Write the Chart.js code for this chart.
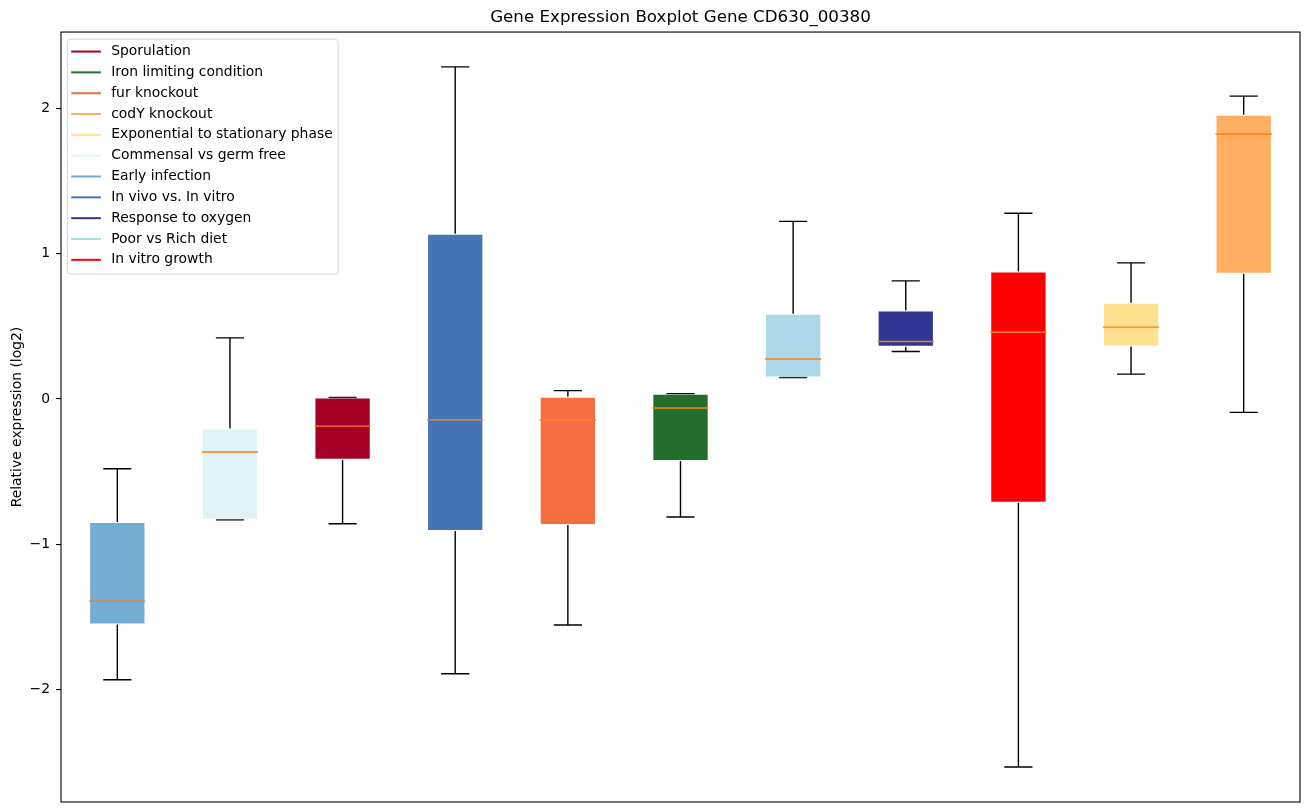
<!DOCTYPE html>
<html>
<head>
<meta charset="utf-8">
<script src="https://cdn.jsdelivr.net/npm/chart.js@4/dist/chart.umd.min.js"></script>
<style>
html,body{margin:0;padding:0;background:#fff;}
#wrap{width:1309px;height:812px;position:relative;}
</style>
</head>
<body>
<div id="wrap"><canvas id="c"></canvas></div>
<script>
// ---- data (x order of the boxes) ----
const categories = ["Early infection","Commensal vs germ free","Sporulation","In vivo vs. In vitro","fur knockout","Iron limiting condition","Poor vs Rich diet","Response to oxygen","In vitro growth","Exponential to stationary phase","codY knockout"];
const whiskerLow  = [-1.933, -0.831, -0.859, -1.891, -1.556, -0.812, 0.148, 0.327, -2.533, 0.171, -0.092];
const q1Values    = [-1.552, -0.831, -0.418, -0.909, -0.868, -0.427, 0.148, 0.359, -0.714, 0.361, 0.862];
const medians     = [-1.391, -0.365, -0.187, -0.143, -0.143, -0.062, 0.275, 0.396, 0.460, 0.495, 1.824];
const q3Values    = [-0.847, -0.203, 0.010, 1.137, 0.016, 0.036, 0.586, 0.609, 0.877, 0.662, 1.957];
const whiskerHigh = [-0.480, 0.421, 0.010, 2.286, 0.058, 0.036, 1.223, 0.813, 1.279, 0.937, 2.085];
const yTicks = [-2, -1, 0, 1, 2];
const legendOrder = ["Sporulation","Iron limiting condition","fur knockout","codY knockout","Exponential to stationary phase","Commensal vs germ free","Early infection","In vivo vs. In vitro","Response to oxygen","Poor vs Rich diet","In vitro growth"];

// ---- styles ----
const colorMap = {
  "Sporulation":"#a50026",
  "Iron limiting condition":"#236e2d",
  "fur knockout":"#f46d43",
  "codY knockout":"#fdae61",
  "Exponential to stationary phase":"#fee090",
  "Commensal vs germ free":"#e0f3f8",
  "Early infection":"#74add1",
  "In vivo vs. In vitro":"#4575b4",
  "Response to oxygen":"#313695",
  "Poor vs Rich diet":"#abd9e9",
  "In vitro growth":"#ff0000"
};
const FONT = "'DejaVu Sans', sans-serif";

const whiskerPlugin = {
  id: 'whiskers',
  beforeDatasetsDraw(chart) {
    const ctx = chart.ctx, xs = chart.scales.x, ys = chart.scales.y;
    const step = xs.getPixelForValue(1) - xs.getPixelForValue(0);
    const hw = step * 0.125;
    ctx.save();
    ctx.strokeStyle = '#000';
    ctx.lineWidth = 1.4;
    categories.forEach((c, i) => {
      const x = xs.getPixelForValue(i);
      const yl = ys.getPixelForValue(whiskerLow[i]);
      const y1 = ys.getPixelForValue(q1Values[i]);
      const y3 = ys.getPixelForValue(q3Values[i]);
      const yh = ys.getPixelForValue(whiskerHigh[i]);
      ctx.beginPath();
      ctx.moveTo(x, y1); ctx.lineTo(x, yl);
      ctx.moveTo(x, y3); ctx.lineTo(x, yh);
      ctx.moveTo(x - hw, yl); ctx.lineTo(x + hw, yl);
      ctx.moveTo(x - hw, yh); ctx.lineTo(x + hw, yh);
      ctx.stroke();
    });
    ctx.restore();
  },
  afterDatasetsDraw(chart) {
    const ctx = chart.ctx, xs = chart.scales.x, ys = chart.scales.y;
    const step = xs.getPixelForValue(1) - xs.getPixelForValue(0);
    const bw = step * 0.25;
    ctx.save();
    ctx.strokeStyle = '#ff7f0e';
    ctx.lineWidth = 1.4;
    categories.forEach((c, i) => {
      const x = xs.getPixelForValue(i);
      const ym = ys.getPixelForValue(medians[i]);
      ctx.beginPath();
      ctx.moveTo(x - bw, ym); ctx.lineTo(x + bw, ym);
      ctx.stroke();
    });
    // frame
    const a = chart.chartArea;
    ctx.strokeStyle = '#000';
    ctx.lineWidth = 1.1;
    ctx.strokeRect(a.left, a.top, a.right - a.left, a.bottom - a.top);
    ctx.restore();
  },
  afterDraw(chart) {
    const ctx = chart.ctx, a = chart.chartArea;
    const bx = a.left + 6.5, by = a.top + 7.3, bwid = 270.7, bh = 234.7, r = 3;
    ctx.save();
    ctx.beginPath();
    ctx.moveTo(bx + r, by);
    ctx.lineTo(bx + bwid - r, by); ctx.quadraticCurveTo(bx + bwid, by, bx + bwid, by + r);
    ctx.lineTo(bx + bwid, by + bh - r); ctx.quadraticCurveTo(bx + bwid, by + bh, bx + bwid - r, by + bh);
    ctx.lineTo(bx + r, by + bh); ctx.quadraticCurveTo(bx, by + bh, bx, by + bh - r);
    ctx.lineTo(bx, by + r); ctx.quadraticCurveTo(bx, by, bx + r, by);
    ctx.closePath();
    ctx.fillStyle = 'rgba(255,255,255,0.8)';
    ctx.fill();
    ctx.strokeStyle = '#d6d6d6';
    ctx.lineWidth = 1;
    ctx.stroke();
    ctx.font = "13.9px " + FONT;
    ctx.textBaseline = 'middle';
    ctx.textAlign = 'left';
    legendOrder.forEach((name, i) => {
      const y = by + 12.2 + i * 20.83;
      ctx.strokeStyle = colorMap[name];
      ctx.lineWidth = 2;
      ctx.beginPath();
      ctx.moveTo(bx + 3.7, y); ctx.lineTo(bx + 33.4, y);
      ctx.stroke();
      ctx.fillStyle = '#000';
      ctx.fillText(name, bx + 43.7, y);
    });
    ctx.restore();
  }
};

new Chart(document.getElementById('c'), {
  type: 'bar',
  data: {
    labels: categories,
    datasets: [{
      data: categories.map((c, i) => [q1Values[i], q3Values[i]]),
      backgroundColor: categories.map(c => colorMap[c]),
      borderColor: 'rgba(255,255,255,0.6)',
      borderWidth: 1,
      borderSkipped: false,
      barPercentage: 0.5,
      categoryPercentage: 1.0
    }]
  },
  options: {
    responsive: true,
    maintainAspectRatio: false,
    animation: false,
    events: [],
    layout: { padding: { left: 0, right: 9, top: 0, bottom: 10 } },
    plugins: {
      legend: { display: false },
      tooltip: { enabled: false },
      title: {
        display: true,
        text: 'Gene Expression Boxplot Gene CD630_00380',
        color: '#000',
        font: { family: FONT, size: 16.7, weight: 'normal', lineHeight: 1.2 },
        padding: { top: 8, bottom: 4 },
        fullSize: false
      }
    },
    scales: {
      x: {
        display: false,
        offset: true,
        grid: { display: false }
      },
      y: {
        min: -2.774,
        max: 2.526,
        afterFit(scale) { scale.width = 61; scale.paddingTop = 0; scale.paddingBottom = 0; },
        afterBuildTicks(scale) { scale.ticks = yTicks.map(v => ({ value: v })); },
        border: { display: false },
        grid: { drawOnChartArea: false, drawTicks: true, tickLength: 5, color: '#000', lineWidth: 1.1 },
        ticks: {
          color: '#000',
          padding: 6,
          font: { family: FONT, size: 13.9 },
          callback: v => String(v).replace('-', '\u2212')
        },
        title: {
          display: true,
          text: 'Relative expression (log2)',
          color: '#000',
          font: { family: FONT, size: 13.9 },
          padding: { top: 9, bottom: 0 }
        }
      }
    }
  },
  plugins: [whiskerPlugin]
});
</script>
</body>
</html>
